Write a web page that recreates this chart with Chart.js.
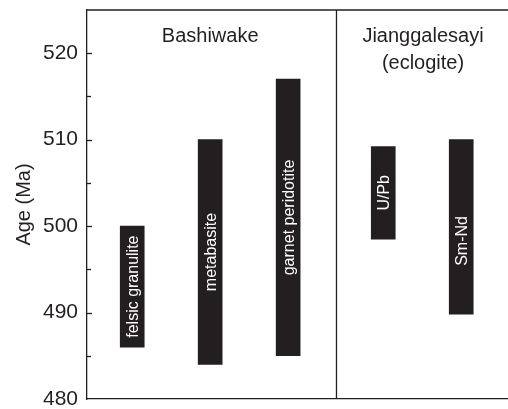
<!DOCTYPE html>
<html>
<head>
<meta charset="utf-8">
<script src="https://cdn.jsdelivr.net/npm/chart.js@4/dist/chart.umd.min.js"></script>
<style>
  html, body { margin: 0; padding: 0; background: #fff; }
  #wrap { width: 508px; height: 409px; }
</style>
</head>
<body>
<div id="wrap"><canvas id="c"></canvas></div>
<script>
// Age ranges (Ma) of the dated rock types
const samples = ['felsic granulite', 'metabasite', 'garnet peridotite', 'U/Pb', 'Sm-Nd'];
const slots = [0.58, 1.58, 2.58, 3.8, 4.8];
const ageMin = [486, 484, 485, 498.5, 489.8];
const ageMax = [500, 510, 517, 509.2, 510];
const groups = [['Bashiwake'], ['Jianggalesayi', '(eclogite)']];
const groupSlots = [1.58, 4.31];
const dividerSlot = 3.2;
const yTicks = [480, 490, 500, 510, 520];

const ink = '#231f20';
const fontFamily = '"Liberation Sans", Arial, Helvetica, sans-serif';

const barData = samples.map((s, i) => ({ x: slots[i], y: [ageMin[i], ageMax[i]] }));

const framePlugin = {
  id: 'frame',
  afterDraw(chart, args, opts) {
    const { ctx, chartArea: a, scales: { x, y } } = chart;
    ctx.save();
    ctx.strokeStyle = ink;
    ctx.lineWidth = 1.3;
    // top border
    ctx.beginPath();
    ctx.moveTo(a.left, a.top);
    ctx.lineTo(a.right, a.top);
    ctx.stroke();
    // inward ticks on the age axis, every 5 Ma
    for (let v = y.min + 5; v < y.max; v += 5) {
      const py = Math.round(y.getPixelForValue(v)) + 0.5;
      const len = v % 10 === 0 ? 5 : 4;
      ctx.beginPath();
      ctx.moveTo(a.left, py);
      ctx.lineTo(a.left + len, py);
      ctx.stroke();
    }
    // group headings
    ctx.fillStyle = ink;
    ctx.font = '20px ' + fontFamily;
    ctx.textAlign = 'center';
    ctx.textBaseline = 'alphabetic';
    groups.forEach((lines, gi) => {
      const px = x.getPixelForValue(groupSlots[gi]);
      lines.forEach((t, li) => ctx.fillText(t, px, a.top + 32 + li * 27));
    });
    ctx.restore();
  },
  afterDatasetsDraw(chart, args, opts) {
    const { ctx } = chart;
    const meta = chart.getDatasetMeta(0);
    ctx.save();
    ctx.fillStyle = '#ffffff';
    ctx.font = '16px ' + fontFamily;
    ctx.textAlign = 'center';
    ctx.textBaseline = 'middle';
    meta.data.forEach((bar, i) => {
      const cy = (bar.y + bar.base) / 2 + (opts.labelShift[i] || 0);
      ctx.save();
      ctx.translate(bar.x, cy);
      ctx.rotate(-Math.PI / 2);
      ctx.fillText(samples[i], 0, 1);
      ctx.restore();
    });
    ctx.restore();
  }
};

new Chart(document.getElementById('c'), {
  type: 'bar',
  data: {
    datasets: [
      {
        type: 'bar',
        data: barData,
        backgroundColor: ink,
        borderWidth: 0,
        barThickness: 24,
        borderSkipped: false
      },
      {
        type: 'line',
        data: [{ x: dividerSlot, y: 480 }, { x: dividerSlot, y: 525 }],
        borderColor: ink,
        borderWidth: 1.3,
        pointRadius: 0,
        fill: false
      }
    ]
  },
  options: {
    responsive: true,
    maintainAspectRatio: false,
    animation: false,
    layout: { padding: { top: 10, bottom: 10, left: 0, right: 0 } },
    plugins: {
      legend: { display: false },
      tooltip: { enabled: false },
      frame: { labelShift: [0, 0, 0, 0, 14] }
    },
    scales: {
      x: {
        type: 'linear',
        min: 0,
        max: 5.4,
        offset: false,
        afterFit(scale) { scale.height = 0; scale.paddingLeft = 0; scale.paddingRight = 0; },
        ticks: { display: false },
        grid: { display: false, drawTicks: false },
        border: { display: true, color: ink, width: 1.3 }
      },
      y: {
        min: 480,
        max: 525,
        afterFit(scale) { scale.width = 87; scale.paddingTop = 0; scale.paddingBottom = 0; },
        afterBuildTicks(scale) { scale.ticks = yTicks.map(v => ({ value: v })); },
        ticks: {
          color: ink,
          padding: 9,
          font: { size: 21, family: fontFamily }
        },
        grid: { display: false, drawTicks: false },
        border: { display: true, color: ink, width: 1.3 },
        title: {
          display: true,
          text: 'Age (Ma)',
          color: ink,
          font: { size: 20, family: fontFamily },
          padding: { top: 12, bottom: 0 }
        }
      }
    }
  },
  plugins: [framePlugin]
});
</script>
</body>
</html>
